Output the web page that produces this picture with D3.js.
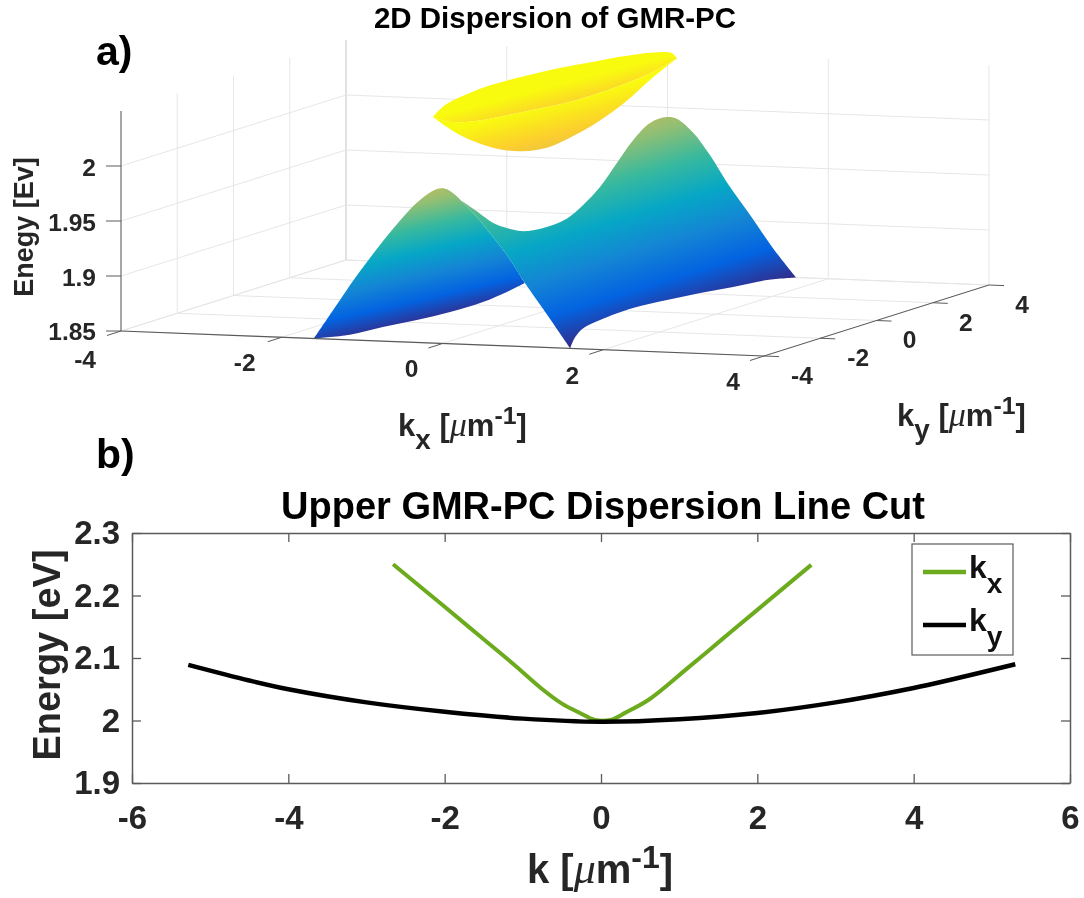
<!DOCTYPE html>
<html>
<head>
<meta charset="utf-8">
<script src="https://cdn.jsdelivr.net/npm/d3@7"></script>
<style>
  html, body { margin: 0; background: #fff; }
  svg { display: block; filter: blur(0.5px); }
  text { font-family: "Liberation Sans", Arial, sans-serif; font-weight: bold; }
</style>
</head>
<body>
<svg id="chart" width="1084" height="898"></svg>
<script>
// Panel a) ticks
const kTicks3d = [-4, -2, 0, 2, 4];
const eTicks3d = [1.85, 1.9, 1.95, 2];
const eLabels3d = ["1.85", "1.9", "1.95", "2"];

const frontArchKx = [-1.6, -1.36, -1.15, -0.94, -0.74, -0.53, -0.32, -0.13, -0.01, 0.09, 0.255, 0.43, 0.59, 0.8, 1.0, 1.3, 1.59];
const frontArchE = [1.85, 1.8765, 1.9, 1.9215, 1.941, 1.96, 1.977, 1.988, 1.991, 1.989, 1.979, 1.966, 1.952, 1.933, 1.9105, 1.88, 1.85];
const ridgeKy = [-3.27, -2.77, -2.2, -1.71, -1.24, -0.78, -0.18, 0.43, 1.0, 1.6, 2.2, 2.77, 3.38, 3.98];
const ridgeE = [1.973, 1.96, 1.945, 1.9365, 1.93, 1.927, 1.926, 1.928, 1.9356, 1.947, 1.964, 1.98, 1.991, 1.9915];
const backArchKx = [0.12, 0.32, 0.53, 0.74, 1.03, 1.31, 1.6];
const backArchE = [1.99, 1.978, 1.958, 1.934, 1.905, 1.876, 1.85];
const rightEdgeKy = [4, 2.97, 1.76, 0.59, -0.59, -1.8, -2.97, -3.57, -3.86, -4.04];
const rightEdgeE = [1.85, 1.856, 1.8595, 1.8635, 1.8665, 1.869, 1.8676, 1.865, 1.859, 1.85];
const leftEdgeKy = [-4, -2.72, -1.55, -0.34, 0.84, 2.01, 2.86, 3.5];
const leftEdgeE = [1.85, 1.843, 1.8406, 1.8373, 1.835, 1.8347, 1.837, 1.84];

// Upper band outlines, written at kx = 0
const upperTopKy = [-4.34, -3.91, -3.2, -2.24, -1.07, 0.11, 1.32, 2.49, 3.66, 4.16, 4.34];
const upperTopE = [2.0586, 2.066, 2.0695, 2.071, 2.0695, 2.067, 2.063, 2.059, 2.053, 2.048, 2.042];
const upperCreaseKy = [-4.34, -3.8, -2.84, -1.67, -0.46, 0.71, 1.88, 3.09, 3.91, 4.34];
const upperCreaseE = [2.0586, 2.05, 2.043, 2.039, 2.0355, 2.033, 2.033, 2.035, 2.039, 2.042];
const upperBottomKy = [-4.34, -3.66, -2.84, -2.03, -1.17, -0.25, 0.71, 1.53, 2.49, 3.45, 4.34];
const upperBottomE = [2.0586, 2.041, 2.024, 2.011, 2.002, 1.998, 2.0015, 2.007, 2.017, 2.031, 2.042];

// Colormap of the surfaces
const parula = ["#352a87", "#0363e1", "#1485d4", "#06a7c6", "#38b99e", "#92bf73", "#d9ba56", "#fcce2e", "#f9fb0e"];

// Panel b)
const cutKx = [-2.66, -2, -1.54, -1.1, -0.77, -0.5, -0.27, -0.08, 0.12, 0.32, 0.62, 1.1, 1.54, 2, 2.69];
const cutKxE = [2.25, 2.182, 2.134, 2.088, 2.052, 2.027, 2.012, 2.001, 2.001, 2.013, 2.034, 2.083, 2.129, 2.177, 2.249];
const cutKy = [-5.28, -4.5, -4, -3, -2, -1, 0, 1, 2, 3, 4, 4.5, 5.3];
const cutKyE = [2.089, 2.064, 2.05, 2.029, 2.014, 2.003, 1.998, 2.002, 2.012, 2.029, 2.052, 2.066, 2.09];
const xTicks = [-6, -4, -2, 0, 2, 4, 6];
const yTicks = [1.9, 2, 2.1, 2.2, 2.3];
const yLabels = ["1.9", "2", "2.1", "2.2", "2.3"];

const textDark = "#262626";
const axisGray = "#5a5a5a";
const gridGray = "#e6e6e6";
const green = "#6cab1e";

const svg = d3.select("#chart");
const defs = svg.append("defs");

// Projection of panel a): one scale per screen direction
const kxToX = d3.scaleLinear().domain([-4, 4]).range([0, 643]);
const kxToY = d3.scaleLinear().domain([-4, 4]).range([0, 25]);
const kyToX = d3.scaleLinear().domain([-4, 4]).range([0, 225]);
const kyToY = d3.scaleLinear().domain([-4, 4]).range([0, -71]);
const eToY = d3.scaleLinear().domain([1.85, 2.05]).range([0, -220]);
const project = (kx, ky, e) => [121 + kxToX(kx) + kyToX(ky), 331 + kxToY(kx) + kyToY(ky) + eToY(e)];

const a = svg.append("g");

// Segment between two 3D points
const seg = (parent, p, q, color, width) => {
  parent.append("line")
    .attr("x1", p[0]).attr("y1", p[1])
    .attr("x2", q[0]).attr("y2", q[1])
    .attr("stroke", color)
    .attr("stroke-width", width);
};

// Grid on the floor and the two back walls
kTicks3d.forEach(t => {
  seg(a, project(t, -4, 1.85), project(t, 4, 1.85), gridGray, 1);
  seg(a, project(-4, t, 1.85), project(4, t, 1.85), gridGray, 1);
  if (t > -4) seg(a, project(t, 4, 1.85), project(t, 4, 2.05), gridGray, 1);
  seg(a, project(-4, t, 1.85), project(-4, t, 2.05), t === 4 ? "#c4c4c4" : gridGray, 1);
});
eTicks3d.forEach(e => {
  seg(a, project(-4, -4, e), project(-4, 4, e), gridGray, 1);
  seg(a, project(-4, 4, e), project(4, 4, e), gridGray, 1);
});

// Axis lines
seg(a, project(-4, -4, 1.85), project(-4, -4, 2.05), axisGray, 1);
seg(a, project(-4, -4, 1.85), project(4, -4, 1.85), axisGray, 1.2);
seg(a, project(4, -4, 1.85), project(4, 4, 1.85), axisGray, 1);

// Ticks and their labels
const tickLabel = (p, label, anchor, size) => a.append("text")
  .attr("x", p[0]).attr("y", p[1])
  .attr("text-anchor", anchor)
  .attr("dy", "0.36em")
  .attr("fill", textDark)
  .style("font-size", size + "px")
  .text(label);

eTicks3d.forEach((e, i) => {
  const p = project(-4, -4, e);
  seg(a, p, [p[0] - 15, p[1]], axisGray, 1);
  tickLabel([96, p[1] + (e === 1.85 ? 0 : 1)], eLabels3d[i], "end", 24.5);
});
kTicks3d.forEach(t => {
  const p = project(t, -4, 1.85);
  seg(a, p, [p[0] - 14, p[1] + 4.5], axisGray, 1);
  if (t === -4) tickLabel([96, p[1] + 28], String(t), "end", 24.5);
  else tickLabel([p[0] - (t < 0 ? 37 : 31), p[1] + 25], String(t), "middle", 24.5);
  const q = project(4, t, 1.85);
  seg(a, q, [q[0] + 15, q[1] + 0.6], axisGray, 1);
  tickLabel([q[0] + (t < 0 ? 38 : 33), q[1] + 19], String(t), "middle", 24.5);
});

// Gradient over the colormap, with straight iso-lines of slope s through
// an anchor point where the colormap is at t0, v pixels per unit of colormap
const band = (id, anchor, t0, s, v) => {
  const k = v / (1 + s * s);
  const at = t => [anchor[0] + s * (t - t0) * k, anchor[1] - (t - t0) * k];
  const g = defs.append("linearGradient")
    .attr("id", id)
    .attr("gradientUnits", "userSpaceOnUse")
    .attr("x1", at(0)[0]).attr("y1", at(0)[1])
    .attr("x2", at(1)[0]).attr("y2", at(1)[1]);
  parula.forEach((c, i) => {
    g.append("stop").attr("offset", i / (parula.length - 1)).attr("stop-color", c);
  });
};

// Panel outline from several smooth pieces, corners kept between them
const smooth = d3.line().curve(d3.curveCatmullRom.alpha(0.5));
const outline = pieces => pieces.map((pts, i) => {
  const d = smooth(pts);
  return i === 0 ? d : "L" + d.slice(1);
}).join("") + "Z";

const zipKx = (kxs, es, ky) => kxs.map((k, i) => project(k, ky, es[i]));
const zipKy = (kys, es, kx) => kys.map((k, i) => project(kx, k, es[i]));
const rev = arr => arr.slice().reverse();
const nKeep = 15; // front arch points before the right panel covers it

band("leftPanel", [333, 344], 0, -0.23, 193);
band("rightPanel", project(1.59, -4, 1.85), 0, -0.31, 305);
band("upperBack", project(0, -4.34, 2.0586), 1, -0.26, 200);
band("upperFront", [433, 134], 1, -0.26, 260);

// Inside of the lower band, seen through the arch
a.append("path")
  .attr("d", outline([
    zipKx(frontArchKx.slice(0, nKeep), frontArchE.slice(0, nKeep), -4),
    zipKy(rev(leftEdgeKy), rev(leftEdgeE), -1.6)
  ]))
  .attr("fill", "url(#leftPanel)");

// Outer side of the lower band
a.append("path")
  .attr("d", outline([
    zipKx(rev(frontArchKx.slice(8)), rev(frontArchE.slice(8)), -4).concat(
      zipKy(ridgeKy, ridgeE, 0),
      zipKx(backArchKx, backArchE, 4)),
    zipKy(rightEdgeKy, rightEdgeE, 1.6)
  ]))
  .attr("fill", "url(#rightPanel)");

// Upper band, back part then front part
a.append("path")
  .attr("d", outline([
    zipKy(upperTopKy, upperTopE, 0),
    zipKy(rev(upperCreaseKy), rev(upperCreaseE), 0)
  ]))
  .attr("fill", "url(#upperBack)");
a.append("path")
  .attr("d", outline([
    zipKy(upperCreaseKy, upperCreaseE, 0),
    zipKy(rev(upperBottomKy), rev(upperBottomE), 0)
  ]))
  .attr("fill", "url(#upperFront)");

// Text with a subscript and the inverse micrometre unit
const kLabel = (parent, x, y, size, sub) => {
  const t = parent.append("text")
    .attr("x", x).attr("y", y)
    .attr("fill", textDark)
    .style("font-size", size + "px");
  t.append("tspan").text("k");
  if (sub) t.append("tspan").attr("dy", size * 0.42).style("font-size", size * 0.9 + "px").text(sub);
  t.append("tspan").attr("dy", sub ? -size * 0.42 : 0).text(" [");
  t.append("tspan")
    .style("font-family", "'Liberation Serif', serif")
    .style("font-style", "italic")
    .style("font-weight", "normal")
    .style("font-size", size * 1.1 + "px")
    .text("μ");
  t.append("tspan").text("m");
  t.append("tspan").attr("dy", -size * 0.38).style("font-size", size * 0.8 + "px").text("-1");
  t.append("tspan").attr("dy", size * 0.38).text("]");
  return t;
};

const plainText = (x, y, label, size, anchor, color) => svg.append("text")
  .attr("x", x).attr("y", y)
  .attr("text-anchor", anchor)
  .attr("fill", color)
  .style("font-size", size + "px")
  .text(label);

plainText(555, 28, "2D Dispersion of GMR-PC", 29.5, "middle", "#000");
plainText(96, 65, "a)", 41, "start", "#000");
plainText(96, 468, "b)", 41, "start", "#000");
plainText(0, 0, "Enegy [Ev]", 27, "middle", textDark)
  .attr("transform", "translate(33,227) rotate(-90)");
kLabel(svg, 398, 436, 31, "x");
kLabel(svg, 897, 426, 31, "y");

// Panel b)
const x = d3.scaleLinear().domain([-6, 6]).range([132, 1070]);
const y = d3.scaleLinear().domain([1.9, 2.3]).range([783, 533]);

const styleAxis = g => {
  g.attr("font-family", null).attr("font-size", null);
  g.selectAll(".domain").attr("stroke", axisGray).attr("stroke-width", 1.5);
  g.selectAll(".tick line").attr("stroke", axisGray).attr("stroke-width", 1.3);
  g.selectAll(".tick text").attr("fill", textDark).style("font-size", "33px");
};

svg.append("g").attr("transform", "translate(0,783)")
  .call(d3.axisBottom(x).tickValues(xTicks).tickSize(-9).tickSizeOuter(0).tickPadding(23).tickFormat(String))
  .call(styleAxis);
svg.append("g").attr("transform", "translate(0,533)")
  .call(d3.axisTop(x).tickValues(xTicks).tickSize(-9).tickSizeOuter(0).tickFormat(""))
  .call(styleAxis);
svg.append("g").attr("transform", "translate(132,0)")
  .call(d3.axisLeft(y).tickValues(yTicks).tickSize(-9).tickSizeOuter(0).tickPadding(12).tickFormat((d, i) => yLabels[i]))
  .call(styleAxis);
svg.append("g").attr("transform", "translate(1070,0)")
  .call(d3.axisRight(y).tickValues(yTicks).tickSize(-9).tickSizeOuter(0).tickFormat(""))
  .call(styleAxis);

const cutLine = d3.line().x(d => x(d[0])).y(d => y(d[1])).curve(d3.curveCatmullRom.alpha(0.5));
svg.append("path")
  .attr("d", cutLine(cutKx.map((k, i) => [k, cutKxE[i]])))
  .attr("fill", "none").attr("stroke", green).attr("stroke-width", 4);
svg.append("path")
  .attr("d", cutLine(cutKy.map((k, i) => [k, cutKyE[i]])))
  .attr("fill", "none").attr("stroke", "#000").attr("stroke-width", 4.5);

plainText(603, 519, "Upper GMR-PC Dispersion Line Cut", 38, "middle", "#000");
plainText(0, 0, "Energy [eV]", 38, "middle", textDark)
  .attr("transform", "translate(60,655) rotate(-90)");
kLabel(svg, 527, 883, 40, null);

// Legend
const legend = svg.append("g");
legend.append("rect")
  .attr("x", 912).attr("y", 544).attr("width", 101).attr("height", 111)
  .attr("fill", "#fff").attr("stroke", axisGray).attr("stroke-width", 1.2);
[[572, green, "x"], [625, "#000", "y"]].forEach(([ly, color, sub]) => {
  legend.append("line")
    .attr("x1", 923).attr("x2", 966).attr("y1", ly).attr("y2", ly)
    .attr("stroke", color).attr("stroke-width", 4.5);
  const t = legend.append("text").attr("x", 969).attr("y", ly + 6).attr("fill", "#111").style("font-size", "32px");
  t.append("tspan").text("k");
  t.append("tspan").attr("dy", 15).style("font-size", "28px").text(sub);
});
</script>
</body>
</html>
